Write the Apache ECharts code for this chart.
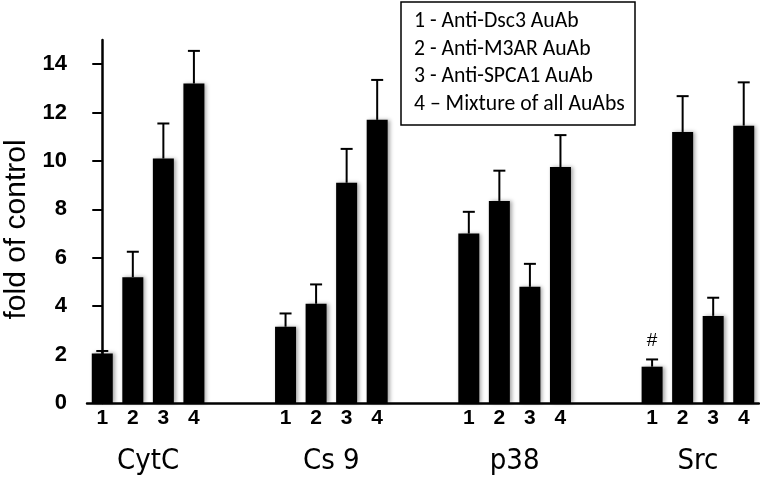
<!DOCTYPE html>
<html>
<head>
<meta charset="utf-8">
<script src="https://cdn.jsdelivr.net/npm/echarts@6/dist/echarts.min.js"></script>
<style>html,body{margin:0;padding:0;background:#fff;}#c{width:760px;height:480px;}</style>
</head>
<body>
<div id="c"></div>
<script>
// Data
var groups = ['CytC', 'Cs 9', 'p38', 'Src'];
var barLabels = ['1', '2', '3', '4'];
var cytcMean = [2.05, 5.2, 10.1, 13.2];
var cytcErr  = [2.15, 6.25, 11.55, 14.55];
var cs9Mean  = [3.15, 4.1, 9.1, 11.7];
var cs9Err   = [3.7, 4.9, 10.5, 13.35];
var p38Mean  = [7.0, 8.35, 4.8, 9.75];
var p38Err   = [7.9, 9.6, 5.75, 11.07];
var srcMean  = [1.5, 11.2, 3.6, 11.46];
var srcErr   = [1.8, 12.68, 4.35, 13.25];
var yTicks = [0, 2, 4, 6, 8, 10, 12, 14];
var legendLines = ['1 - Anti-Dsc3 AuAb', '2 - Anti-M3AR AuAb', '3 - Anti-SPCA1 AuAb', '4 \u2013 Mixture of all AuAbs'];
var markIndex = 18; // Src bar 1 carries '#'

var means = [cytcMean, cs9Mean, p38Mean, srcMean];
var errs = [cytcErr, cs9Err, p38Err, srcErr];
var cats = [], barData = [], errData = [];
for (var g = 0; g < groups.length; g++) {
  for (var b = 0; b < 4; b++) {
    var idx = cats.length;
    cats.push(barLabels[b]);
    var item = { value: means[g][b] };
    if (idx === markIndex) {
      item.label = { show: true, position: 'top', distance: 16, formatter: '#',
        fontFamily: 'Liberation Sans', fontSize: 19, color: '#000' };
    }
    barData.push(item);
    errData.push([idx, means[g][b], errs[g][b]]);
  }
  if (g < groups.length - 1) {
    cats.push(''); cats.push('');
    barData.push('-'); barData.push('-');
  }
}
var groupPos = [1.5, 7.5, 13.5, 19.5];

var chart = echarts.init(document.getElementById('c'), null, { renderer: 'canvas' });
chart.setOption({
  backgroundColor: '#fff',
  animation: false,
  title: {
    text: legendLines.join('\n'),
    left: 401, top: 2,
    borderColor: '#000', borderWidth: 1.5,
    padding: [6, 11, 7, 13],
    textStyle: { fontFamily: 'Carlito, Lato', fontSize: 21.7, fontWeight: 'normal', color: '#000', lineHeight: 27.5 }
  },
  grid: { left: 87, right: 1, top: 40, bottom: 77, outerBoundsMode: 'none', containLabel: false },
  xAxis: [{
    type: 'category',
    data: cats,
    axisLine: { lineStyle: { color: '#000', width: 2.5 } },
    axisTick: { show: false },
    axisLabel: { color: '#000', fontFamily: 'Liberation Sans', fontWeight: 'bold', fontSize: 21, margin: 5, interval: 0 }
  }, {
    type: 'value',
    position: 'bottom',
    min: -0.5, max: 21.5,
    axisLine: { show: false },
    axisTick: { show: false },
    splitLine: { show: false },
    axisLabel: {
      customValues: groupPos,
      formatter: function (v) { var i = groupPos.indexOf(v); return i >= 0 ? groups[i] : ''; },
      color: '#000', fontFamily: '"Liberation Sans Narrow", "DejaVu Sans Condensed", "Liberation Sans"', fontSize: 29, margin: 44
    }
  }],
  yAxis: {
    type: 'value',
    min: 0, max: 15,
    name: 'fold of control',
    nameLocation: 'middle',
    nameGap: 50,
    nameRotate: 90,
    nameTextStyle: { color: '#000', fontFamily: 'Liberation Sans', fontSize: 30, padding: [0, 16, 0, 0] },
    axisLine: { show: true, lineStyle: { color: '#000', width: 2.5 } },
    axisTick: { show: true, inside: false, length: 10, customValues: yTicks, lineStyle: { color: '#000', width: 2 } },
    axisLabel: { customValues: yTicks, color: '#000', fontFamily: 'Liberation Sans', fontWeight: 'bold', fontSize: 22, margin: 20 },
    splitLine: { show: false }
  },
  series: [{
    type: 'bar',
    xAxisIndex: 0,
    data: barData,
    barWidth: 21,
    itemStyle: { color: '#000', shadowColor: 'rgba(0,0,0,0.35)', shadowBlur: 4, shadowOffsetX: 2 },
    z: 2
  }, {
    type: 'custom',
    xAxisIndex: 0,
    data: errData,
    z: 3,
    renderItem: function (params, api) {
      var x = api.value(0);
      var p0 = api.coord([x, api.value(1)]);
      var p1 = api.coord([x, api.value(2)]);
      var hw = 6;
      return {
        type: 'group',
        children: [{
          type: 'line',
          shape: { x1: p0[0], y1: p0[1], x2: p1[0], y2: p1[1] },
          style: { stroke: '#000', lineWidth: 2 }
        }, {
          type: 'line',
          shape: { x1: p1[0] - hw, y1: p1[1], x2: p1[0] + hw, y2: p1[1] },
          style: { stroke: '#000', lineWidth: 2 }
        }]
      };
    }
  }]
});
</script>
</body>
</html>
